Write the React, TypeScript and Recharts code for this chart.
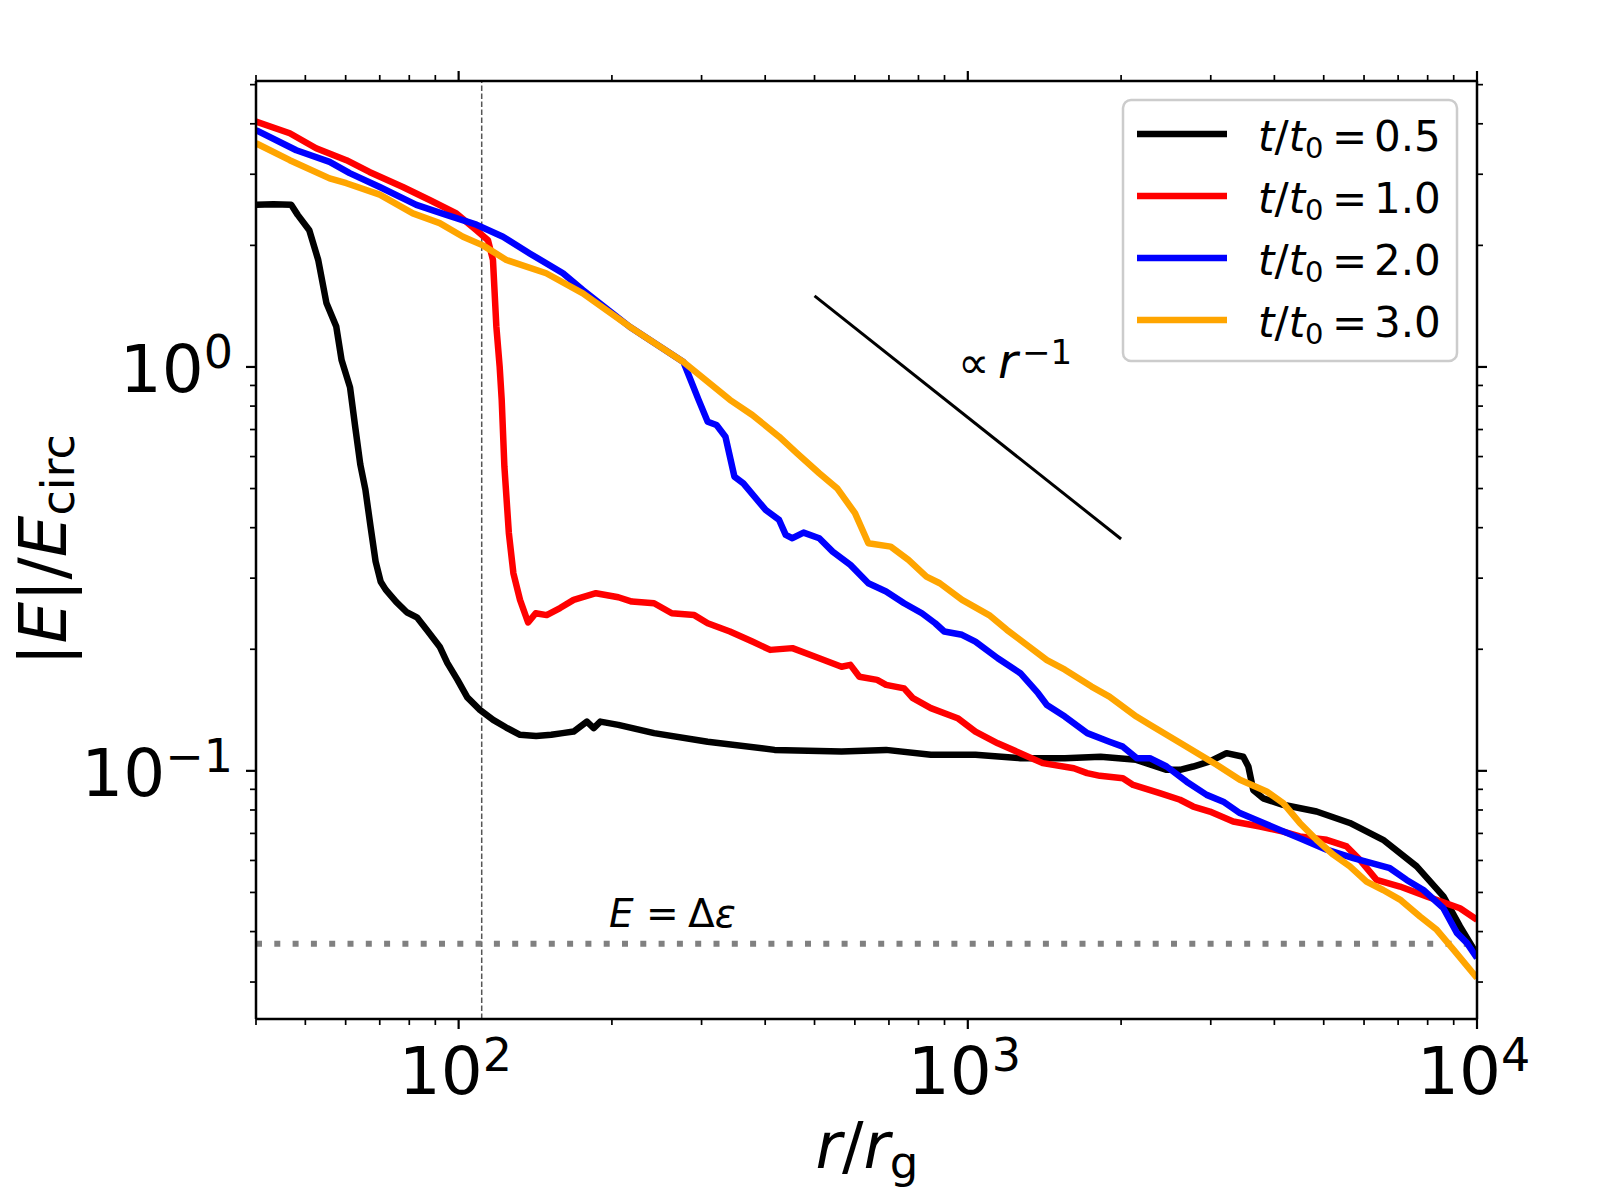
import React from "react";
import { LineChart, Line, XAxis, YAxis, ReferenceLine } from "recharts";

// t/t0 = 0.5
const rHalf = [40, 43.3, 46.9, 48.3, 50.9, 53.0, 55.0, 57.5, 58.9, 61.2, 62.7, 64.1, 65.6, 67.1, 68.7, 70.3, 71.9, 75.4, 79.1, 82.8, 86.7, 91.8, 95.0, 99.5, 104, 110.1, 116.9, 124, 132, 142, 152, 160, 168.2, 178.6, 184.2, 189.8, 205.9, 242, 308.4, 417.3, 565, 691, 846, 1035, 1268, 1551, 1823, 2143, 2457, 2610, 2771, 2988, 3222, 3475, 3556, 3635, 3802, 4160, 4840, 5627, 6540, 7613, 8590, 9260, 10000];
const eHalf = [2.52, 2.53, 2.52, 2.38, 2.18, 1.84, 1.44, 1.26, 1.04, 0.89, 0.705, 0.574, 0.497, 0.405, 0.33, 0.294, 0.281, 0.262, 0.247, 0.24, 0.223, 0.203, 0.185, 0.168, 0.152, 0.1416, 0.1337, 0.128, 0.1228, 0.122, 0.1228, 0.124, 0.1251, 0.1324, 0.1276, 0.1324, 0.13, 0.124, 0.1181, 0.1127, 0.1116, 0.1127, 0.1096, 0.1096, 0.1075, 0.1075, 0.1084, 0.1065, 0.1006, 0.1006, 0.1025, 0.1055, 0.1106, 0.1084, 0.1025, 0.0897, 0.0855, 0.0824, 0.0793, 0.0743, 0.0675, 0.058, 0.0489, 0.0412, 0.0351];

// t/t0 = 1.0
const rOne = [40, 46.6, 52.5, 60.2, 66.8, 77.7, 87.7, 99, 108.4, 114.2, 116.8, 118.6, 120.4, 121.5, 123, 125.5, 128.1, 132, 136.9, 141.7, 148.9, 158.2, 168.2, 186.1, 205.9, 218.8, 242, 262.2, 290.2, 308.4, 341, 377.4, 409.2, 452.4, 510.8, 565, 588, 612.4, 663.7, 691, 749.6, 780.3, 846, 955, 1035, 1145, 1268, 1403, 1615, 1715, 1817, 2016, 2112, 2382, 2610, 2771, 2988, 3320, 3748, 4163, 4487, 5067, 5546, 5889, 6350, 7058, 7962, 9260, 10000];
const eOne = [4.05, 3.79, 3.48, 3.25, 3.04, 2.79, 2.59, 2.4, 2.18, 2.06, 1.84, 1.26, 1.0, 0.83, 0.566, 0.388, 0.3086, 0.265, 0.233, 0.2456, 0.243, 0.253, 0.265, 0.2753, 0.269, 0.2625, 0.26, 0.2456, 0.243, 0.232, 0.2213, 0.209, 0.1993, 0.2013, 0.19, 0.181, 0.183, 0.171, 0.168, 0.1633, 0.16, 0.1513, 0.143, 0.135, 0.125, 0.117, 0.1106, 0.1045, 0.1015, 0.0987, 0.0972, 0.0959, 0.0923, 0.0881, 0.0848, 0.0816, 0.0793, 0.0749, 0.0728, 0.0707, 0.0688, 0.0675, 0.065, 0.0602, 0.0537, 0.0517, 0.0489, 0.0457, 0.0428];

// t/t0 = 2.0
const rTwo = [40, 48, 55.8, 61.1, 70, 82.6, 94.6, 108.4, 122.2, 137.9, 160.3, 175.4, 216.7, 276.4, 296, 308.4, 321, 334.2, 348, 362.4, 400.8, 426, 438.9, 452.4, 475.8, 510.8, 542.7, 588, 637.8, 691, 749.6, 812.5, 863, 899, 974, 1035, 1145, 1268, 1374, 1430, 1551, 1716, 1897, 2016, 2148, 2278, 2457, 2690, 2945, 3175, 3422, 3748, 4102, 4487, 5067, 5715, 6745, 7275, 7847, 8590, 9130, 9550, 10000];
const eTwo = [3.86, 3.44, 3.22, 3.02, 2.79, 2.52, 2.38, 2.25, 2.1, 1.91, 1.706, 1.551, 1.258, 1.029, 0.829, 0.732, 0.718, 0.672, 0.5354, 0.515, 0.4426, 0.418, 0.3838, 0.3767, 0.389, 0.3767, 0.349, 0.3236, 0.2914, 0.278, 0.26, 0.2456, 0.232, 0.2213, 0.2172, 0.209, 0.19, 0.1745, 0.1557, 0.1456, 0.1363, 0.124, 0.1181, 0.1148, 0.1075, 0.1075, 0.1025, 0.094, 0.0872, 0.0839, 0.0786, 0.0749, 0.0714, 0.0681, 0.0638, 0.0608, 0.0574, 0.0537, 0.0507, 0.0457, 0.0397, 0.0375, 0.0344];

// t/t0 = 3.0
const rThree = [40, 46.6, 55.8, 60.2, 70, 81.3, 91.8, 102, 111.6, 124.1, 148.6, 175.4, 216.7, 276.4, 341, 377.4, 426, 461.6, 510.8, 553.6, 600.4, 637.8, 705.6, 764.6, 829.3, 881, 974.5, 1101, 1193, 1430, 1551, 1750, 1897, 2143, 2278, 2650, 3081, 3422, 3863, 4163, 4487, 4840, 5222, 5627, 6067, 6540, 7058, 7727, 8337, 8990, 10000];
const eThree = [3.58, 3.25, 2.93, 2.85, 2.67, 2.4, 2.27, 2.1, 2.0, 1.84, 1.706, 1.522, 1.258, 1.029, 0.829, 0.7605, 0.672, 0.6115, 0.5454, 0.501, 0.4345, 0.366, 0.359, 0.3328, 0.3027, 0.2914, 0.265, 0.243, 0.2234, 0.188, 0.178, 0.1617, 0.1527, 0.1363, 0.13, 0.116, 0.1035, 0.095, 0.0889, 0.0832, 0.0743, 0.0675, 0.062, 0.058, 0.0532, 0.0507, 0.048, 0.0436, 0.0404, 0.0361, 0.0307];

// guide line  ∝ r^-1
const rSlope = [500, 2000];
const eSlope = [1.5, 0.375];

const legendLabels = ["0.5", "1.0", "2.0", "3.0"];
const seriesColors = ["#000000", "#ff0000", "#0000ff", "#ffa500"];

const xTicks = [40, 50, 60, 70, 80, 90, 100, 200, 300, 400, 500, 600, 700, 800, 900, 1000, 2000, 3000, 4000, 5000, 6000, 7000, 8000, 9000, 10000];
const yTicks = [0.03, 0.04, 0.05, 0.06, 0.07, 0.08, 0.09, 0.1, 0.2, 0.3, 0.4, 0.5, 0.6, 0.7, 0.8, 0.9, 1, 2, 3, 4, 5];
const xMajor = [100, 1000, 10000];
const xMajorLabels = ["2", "3", "4"];
const yMajor = [0.1, 1];
const yMajorLabels = ["\u22121", "0"];

const deltaEps = 0.0373;
const rMark = 111;

const FONT = "DejaVu Sans";
const TICK_FS = 66;
const SUP_FS = 46;

const toPoints = (r: number[], e: number[]) => r.map((v, i) => ({ r: v, E: e[i] }));

const series = [
  toPoints(rHalf, eHalf),
  toPoints(rOne, eOne),
  toPoints(rTwo, eTwo),
  toPoints(rThree, eThree),
];
const slopeData = toPoints(rSlope, eSlope);

const majorIndex = (v: number, majors: number[]) =>
  majors.findIndex((m) => Math.abs(Math.log10(v) - Math.log10(m)) < 1e-6);

// rough advance of the superscript text (DejaVu Sans em widths)
const supAdvance = (s: string) =>
  s.split("").reduce((w, c) => w + (c === "\u2212" ? 0.838 : 0.636), 0) * SUP_FS;

const BottomTick = (props: any) => {
  const { x, y, payload } = props;
  const i = majorIndex(payload.value, xMajor);
  const major = i >= 0;
  return (
    <g>
      <line x1={x} y1={y} x2={x} y2={y + (major ? 10 : 6)} stroke="#000" strokeWidth={major ? 2.2 : 1.7} />
      {major && (
        <g fontFamily={FONT} fill="#000">
          <text x={x + 24} y={y + 75} textAnchor="end" fontSize={TICK_FS}>10</text>
          <text x={x + 24} y={y + 52} textAnchor="start" fontSize={SUP_FS}>{xMajorLabels[i]}</text>
        </g>
      )}
    </g>
  );
};

const TopTick = (props: any) => {
  const { x, y, payload } = props;
  const major = majorIndex(payload.value, xMajor) >= 0;
  return <line x1={x} y1={y} x2={x} y2={y - (major ? 10 : 6)} stroke="#000" strokeWidth={major ? 2.2 : 1.7} />;
};

const LeftTick = (props: any) => {
  const { x, y, payload } = props;
  const i = majorIndex(payload.value, yMajor);
  const major = i >= 0;
  const supEnd = x - 23;
  const tenEnd = major ? supEnd - supAdvance(yMajorLabels[i]) : 0;
  return (
    <g>
      <line x1={x} y1={y} x2={x - (major ? 10 : 6)} y2={y} stroke="#000" strokeWidth={major ? 2.2 : 1.7} />
      {major && (
        <g fontFamily={FONT} fill="#000">
          <text x={tenEnd} y={y + 25} textAnchor="end" fontSize={TICK_FS}>10</text>
          <text x={supEnd} y={y + 1} textAnchor="end" fontSize={SUP_FS}>{yMajorLabels[i]}</text>
        </g>
      )}
    </g>
  );
};

const RightTick = (props: any) => {
  const { x, y, payload } = props;
  const major = majorIndex(payload.value, yMajor) >= 0;
  return <line x1={x} y1={y} x2={x + (major ? 10 : 6)} y2={y} stroke="#000" strokeWidth={major ? 2.2 : 1.7} />;
};

const spine = { stroke: "#000", strokeWidth: 2.5 };

export default function App() {
  return (
    <div style={{ position: "absolute", left: 0, top: 0, width: 1600, height: 1200, background: "#fff" }}>
      <LineChart width={1600} height={1200} margin={{ top: 0, right: 0, bottom: 0, left: 0 }}>
        <XAxis
          dataKey="r"
          type="number"
          scale="log"
          domain={[40, 10000]}
          allowDataOverflow
          ticks={xTicks}
          interval={0}
          tick={(p: any) => <BottomTick {...p} />}
          tickLine={false}
          tickSize={0}
          tickMargin={0}
          height={181}
          axisLine={spine}
        />
        <XAxis
          xAxisId="top"
          orientation="top"
          dataKey="r"
          type="number"
          scale="log"
          domain={[40, 10000]}
          allowDataOverflow
          ticks={xTicks}
          interval={0}
          tick={(p: any) => <TopTick {...p} />}
          tickLine={false}
          tickSize={0}
          tickMargin={0}
          height={81}
          axisLine={spine}
        />
        <YAxis
          type="number"
          scale="log"
          domain={[0.0243, 5.105]}
          allowDataOverflow
          ticks={yTicks}
          interval={0}
          tick={(p: any) => <LeftTick {...p} />}
          tickLine={false}
          tickSize={0}
          tickMargin={0}
          width={256}
          axisLine={spine}
        />
        <YAxis
          yAxisId="right"
          orientation="right"
          type="number"
          scale="log"
          domain={[0.0243, 5.105]}
          allowDataOverflow
          ticks={yTicks}
          interval={0}
          tick={(p: any) => <RightTick {...p} />}
          tickLine={false}
          tickSize={0}
          tickMargin={0}
          width={123}
          axisLine={spine}
        />
        <ReferenceLine x={rMark} stroke="#555" strokeWidth={1.5} strokeDasharray="5.5 2.5" />
        <ReferenceLine y={deltaEps} stroke="#808080" strokeWidth={6} strokeDasharray="6 12.3" />
        <Line data={slopeData} dataKey="E" type="linear" stroke="#000" strokeWidth={3} dot={false} isAnimationActive={false} />
        {series.map((d, i) => (
          <Line
            key={i}
            data={d}
            dataKey="E"
            type="linear"
            stroke={seriesColors[i]}
            strokeWidth={6.5}
            strokeLinejoin="round"
            dot={false}
            isAnimationActive={false}
          />
        ))}
      </LineChart>
      <svg
        width={1600}
        height={1200}
        style={{ position: "absolute", left: 0, top: 0, pointerEvents: "none" }}
        fontFamily={FONT}
      >
        <text x={867} y={1168} fontSize={64} textAnchor="middle" fill="#000">
          <tspan fontStyle="italic">r</tspan>/<tspan fontStyle="italic">r</tspan>
          <tspan fontSize={45} dy={10}>g</tspan>
        </text>
        <text transform="translate(66,550) rotate(-90)" fontSize={66} textAnchor="middle" fill="#000">
          |<tspan fontStyle="italic">E</tspan>|/<tspan fontStyle="italic">E</tspan>
          <tspan fontSize={46} dy={8}>circ</tspan>
        </text>
        <g fill="#000">
          <text x={958} y={378} fontSize={44}>{"\u221d"}</text>
          <text x={998} y={378} fontSize={48} fontStyle="italic">r</text>
          <text x={1022} y={364} fontSize={34}>{"\u22121"}</text>
        </g>
        <g fill="#000" fontSize={39}>
          <text x={609} y={927} fontStyle="italic">E</text>
          <text x={646} y={927}>=</text>
          <text x={688} y={927}>{"\u0394"}<tspan fontStyle="italic">{"\u03b5"}</tspan></text>
        </g>
        <rect x={1123} y={100} width={334} height={261} rx={8} fill="#fff" fillOpacity={0.8} stroke="#cccccc" strokeWidth={2.5} />
        {legendLabels.map((lab, i) => {
          const y = 134 + 62 * i;
          return (
            <g key={lab} fill="#000">
              <line x1={1137} x2={1227} y1={y} y2={y} stroke={seriesColors[i]} strokeWidth={6.5} />
              <text x={1258} y={y + 17} fontSize={42}>
                <tspan fontStyle="italic">t</tspan>/<tspan fontStyle="italic">t</tspan>
                <tspan fontSize={29} dy={7}>0</tspan>
              </text>
              <text x={1332} y={y + 17} fontSize={42}>=</text>
              <text x={1374} y={y + 17} fontSize={42}>{lab}</text>
            </g>
          );
        })}
      </svg>
    </div>
  );
}
